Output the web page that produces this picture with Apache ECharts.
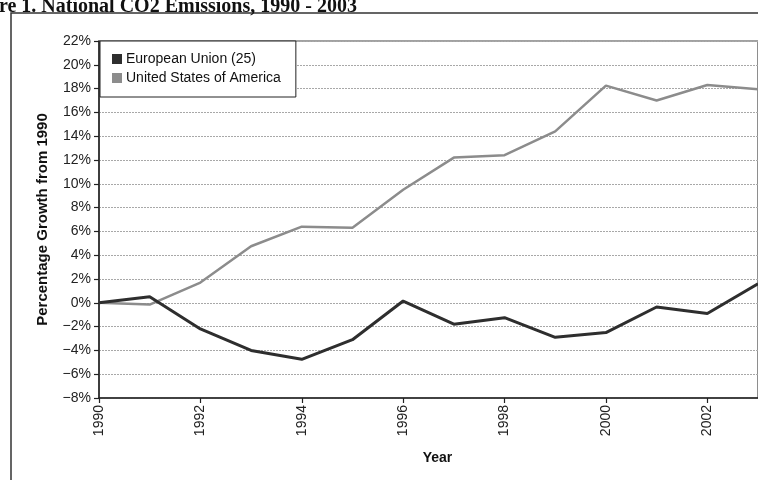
<!DOCTYPE html>
<html>
<head>
<meta charset="utf-8">
<script src="https://cdn.jsdelivr.net/npm/echarts@6/dist/echarts.min.js"></script>
<style>
  html, body { margin: 0; padding: 0; background: #ffffff; }
  #chart { width: 758px; height: 480px; }
</style>
</head>
<body>
<div id="chart"></div>
<script>
// Years on the horizontal axis
var years = ['1990','1991','1992','1993','1994','1995','1996','1997','1998','1999','2000','2001','2002','2003'];
// Percentage growth of CO2 emissions relative to 1990
var euValues = [0, 0.5, -2.2, -4.0, -4.75, -3.1, 0.15, -1.8, -1.25, -2.9, -2.5, -0.35, -0.9, 1.6];
var usValues = [0, -0.15, 1.7, 4.75, 6.4, 6.3, 9.5, 12.2, 12.4, 14.4, 18.25, 17.0, 18.3, 17.95];
var seriesNames = ['European Union (25)', 'United States of America'];
var titleText = 'Figure 1. National CO2 Emissions, 1990 - 2003';
var yAxisTitle = 'Percentage Growth from 1990';
var xAxisTitle = 'Year';

var chart = echarts.init(document.getElementById('chart'), null, { renderer: 'canvas' });

var sans = 'Liberation Sans, Arial, sans-serif';

chart.setOption({
  backgroundColor: '#ffffff',
  animation: false,
  graphic: [
    {
      type: 'text',
      left: -40, top: -3,
      style: {
        text: titleText,
        font: 'bold 20px "Liberation Serif", "Times New Roman", serif',
        fill: '#111'
      }
    },
    {
      type: 'rect',
      shape: { x: 11, y: 13, width: 900, height: 600 },
      style: { fill: 'none', stroke: '#333', lineWidth: 1.5 },
      z: -1
    }
  ],
  legend: {
    orient: 'vertical',
    left: 100, top: 41,
    backgroundColor: '#ffffff',
    borderColor: '#222',
    borderWidth: 1,
    padding: [11, 15, 12, 12],
    itemGap: 5,
    itemWidth: 10, itemHeight: 10,
    icon: 'rect',
    textStyle: { fontFamily: sans, fontSize: 14, color: '#111', padding: [0, 0, 0, -1] },
    data: seriesNames,
    z: 10
  },
  grid: {
    left: 99, top: 41, width: 666, height: 357,
    show: true, borderColor: '#444', borderWidth: 1.2,
    containLabel: false
  },
  xAxis: {
    type: 'category',
    data: years,
    boundaryGap: false,
    name: xAxisTitle,
    nameLocation: 'middle',
    nameGap: 53,
    nameTextStyle: { fontFamily: sans, fontWeight: 'bold', fontSize: 14, color: '#111', padding: [0, 0, 0, 18] },
    axisLine: { onZero: false, lineStyle: { color: '#222', width: 1.5 } },
    axisTick: { interval: 1, length: 5, lineStyle: { color: '#222', width: 1.2 } },
    axisLabel: { interval: 1, rotate: 90, margin: 7, fontFamily: sans, fontSize: 14, color: '#222' },
    splitLine: { show: false }
  },
  yAxis: {
    type: 'value',
    min: -8, max: 22, interval: 2,
    name: yAxisTitle,
    nameLocation: 'middle',
    nameGap: 49,
    nameTextStyle: { fontFamily: sans, fontWeight: 'bold', fontSize: 15, color: '#111' },
    axisLine: { show: true, lineStyle: { color: '#222', width: 1.5 } },
    axisTick: { show: true, length: 5, lineStyle: { color: '#222', width: 1.2 } },
    axisLabel: {
      margin: 8, fontFamily: sans, fontSize: 14, color: '#222',
      formatter: function (v) { return String(v).replace('-', '\u2212') + '%'; }
    },
    splitLine: { show: true, lineStyle: { color: '#a8a8a8', width: 1, type: [2, 1] } }
  },
  series: [
    {
      name: seriesNames[0],
      type: 'line',
      data: euValues,
      symbol: 'none',
      color: '#2e2e2e',
      lineStyle: { color: '#2e2e2e', width: 3 },
      z: 3
    },
    {
      name: seriesNames[1],
      type: 'line',
      data: usValues,
      symbol: 'none',
      color: '#8c8c8c',
      lineStyle: { color: '#8c8c8c', width: 2.5 },
      z: 2
    }
  ]
});
</script>
</body>
</html>
